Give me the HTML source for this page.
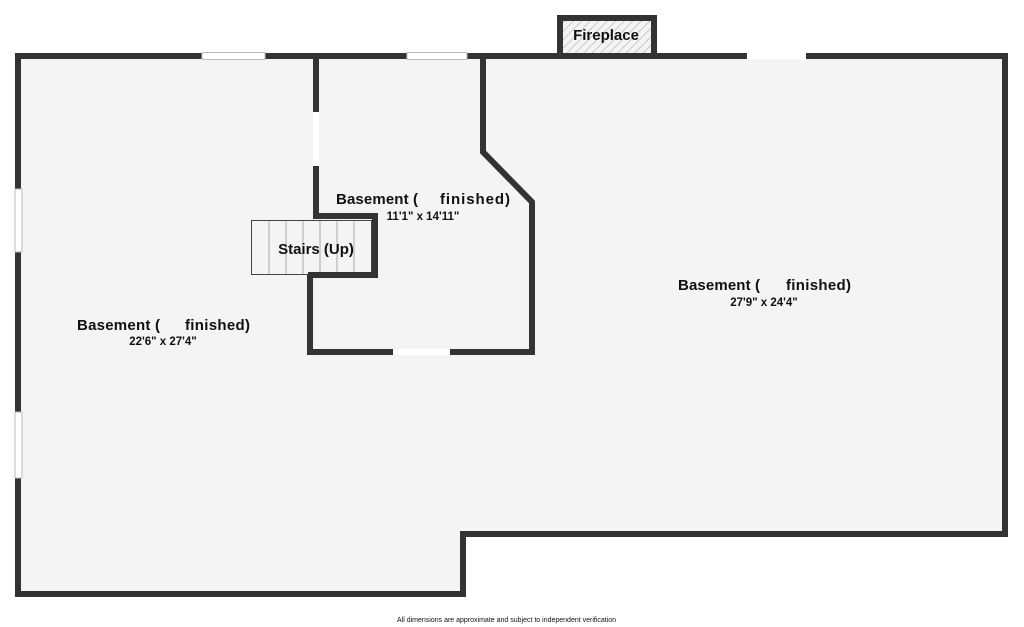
<!DOCTYPE html>
<html><head><meta charset="utf-8"><style>
html,body{margin:0;padding:0;background:#fff;}
svg{display:block;}
text{font-family:"Liberation Sans","DejaVu Sans",sans-serif;fill:#111;}
</style></head><body>
<svg width="1024" height="627" viewBox="0 0 1024 627" xmlns="http://www.w3.org/2000/svg">
<defs>
<pattern id="h" width="6" height="6" patternUnits="userSpaceOnUse" patternTransform="rotate(45)">
<rect width="6" height="6" fill="#f4f4f4"/><line x1="0" y1="0" x2="0" y2="6" stroke="#999" stroke-width="1"/>
</pattern>
</defs>
<rect x="560" y="18" width="94" height="38" fill="url(#h)" stroke="#333" stroke-width="6"/>
<path d="M18,56 H1005 V534 H463 V594 H18 Z" fill="#f4f4f4" stroke="#333" stroke-width="6" stroke-linejoin="miter"/>
<g fill="#fff" stroke="#bbb" stroke-width="1">
<rect x="202" y="52.5" width="63" height="7"/>
<rect x="407" y="52.5" width="60" height="7"/>
<rect x="747" y="52.5" width="59" height="7" stroke="none"/>
<rect x="15" y="189" width="7" height="63"/>
<rect x="15" y="412" width="7" height="66"/>
</g>
<path d="M316,56 V216 H375 V275 H310 V352 H532 V202 L483,152 V56" fill="none" stroke="#333" stroke-width="6" stroke-linejoin="miter"/>
<rect x="313" y="112" width="6" height="54" fill="#fff"/>
<rect x="393" y="349" width="57" height="6" fill="#fff"/>
<rect x="251.5" y="220.5" width="120" height="54" fill="#f4f4f4" stroke="#444" stroke-width="1"/>
<g stroke="#aaa" stroke-width="1">
<line x1="269" y1="221" x2="269" y2="274"/><line x1="286" y1="221" x2="286" y2="274"/>
<line x1="303" y1="221" x2="303" y2="274"/><line x1="320" y1="221" x2="320" y2="274"/>
<line x1="337" y1="221" x2="337" y2="274"/><line x1="354" y1="221" x2="354" y2="274"/>
</g>
<path d="M313,216 H375 V275 H308" fill="none" stroke="#333" stroke-width="6"/>
<g font-weight="bold" font-size="15">
<text x="316" y="254" text-anchor="middle">Stairs (Up)</text>
<text x="606" y="40" text-anchor="middle">Fireplace</text>
<text x="418" y="204" text-anchor="end" textLength="82">Basement (</text>
<text x="440" y="204" textLength="70">finished)</text>
<text x="160" y="330" text-anchor="end" textLength="83">Basement (</text>
<text x="185" y="330" textLength="65">finished)</text>
<text x="760" y="290" text-anchor="end" textLength="82">Basement (</text>
<text x="786" y="290" textLength="65">finished)</text>
</g>
<g font-weight="bold" font-size="11.5" text-anchor="middle">
<text x="423" y="220">11'1" x 14'11"</text>
<text x="163" y="345">22'6" x 27'4"</text>
<text x="764" y="306">27'9" x 24'4"</text>
</g>
<text x="397" y="622" font-size="7">All dimensions are approximate and subject to independent verification</text>
</svg>
</body></html>
